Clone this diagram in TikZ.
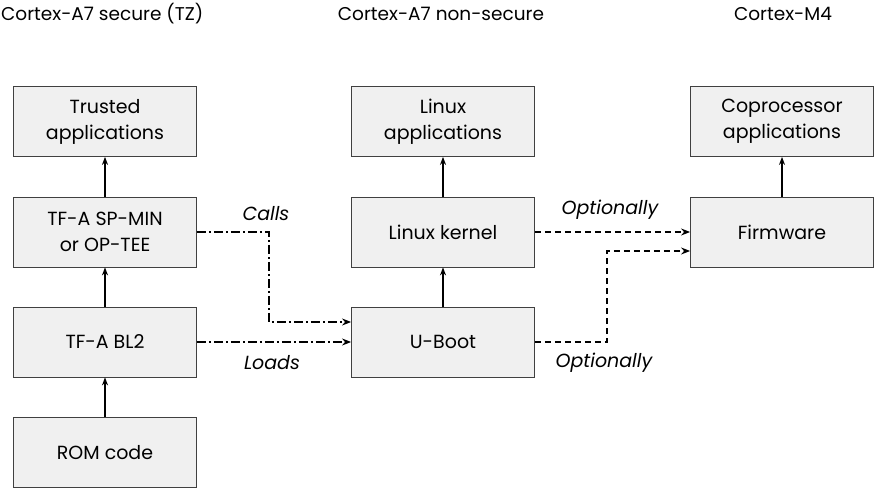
\documentclass[tikz,border=0pt]{standalone}
\usepackage{fontspec}
\setmainfont{Poppins}
\usetikzlibrary{arrows.meta}
\begin{document}
\begin{tikzpicture}[x=1pt,y=-1pt,
  blk/.style={draw=black!75,fill=black!6,line width=0.8pt,minimum width=183pt,minimum height=70pt,align=center,font=\fontsize{19}{26}\selectfont,inner sep=0pt},
  ttl/.style={font=\fontsize{18.5}{26}\selectfont,inner sep=0pt},
  lbl/.style={font=\fontsize{19}{26}\selectfont\itshape},
  sar/.style={line width=1.3pt,-{Stealth[length=8pt,width=6pt]}},
  dda/.style={line width=1.3pt,dash pattern=on 9pt off 3pt on 2pt off 3pt,-{Stealth[length=9pt,width=7pt]}},
  dsh/.style={line width=1.3pt,dash pattern=on 6pt off 4pt,-{Stealth[length=9pt,width=7pt]}}]
\useasboundingbox (0,0) rectangle (876,489);
\node[ttl,anchor=west] (t1) at (1,14) {Cortex-A7 secure (TZ)};
\node[ttl] (t2) at (441,14) {Cortex-A7 non-secure};
\node[ttl] (t3) at (783,14) {Cortex-M4};
\node[blk] (ta) at (105,121.5) {Trusted\\applications};
\node[blk] (sp) at (105,232) {TF-A SP-MIN\\or OP-TEE};
\node[blk] (bl) at (105,342) {TF-A BL2};
\node[blk] (rom) at (105,452.5) {ROM code};
\node[blk] (la) at (443,121.5) {Linux\\applications};
\node[blk] (lk) at (443,232) {Linux kernel};
\node[blk] (ub) at (443,342) {U-Boot};
\node[blk] (ca) at (782,121.5) {Coprocessor\\applications};
\node[blk] (fw) at (782,232) {Firmware};
\draw[sar] (rom) -- (bl);
\draw[sar] (bl) -- (sp);
\draw[sar] (sp) -- (ta);
\draw[sar] (ub) -- (lk);
\draw[sar] (lk) -- (la);
\draw[sar] (fw) -- (ca);
\coordinate (c1) at (269,232);
\coordinate (c2) at (269,322);
\draw[dda] (sp.east) -- (c1) -- (c2) -- (c2 -| ub.west);
\draw[dda] (bl.east) -- (ub.west);
\node[lbl] (calls) at (266,214) {Calls};
\node[lbl] (loads) at (272,363) {Loads};
\draw[dsh] (lk.east) -- (fw.west);
\coordinate (o1) at (607,342);
\coordinate (o2) at (607,251);
\draw[dsh] (ub.east) -- (o1) -- (o2) -- (o2 -| fw.west);
\node[lbl] (op1) at (610,210) {Optionally};
\node[lbl] (op2) at (604,363) {Optionally};
\end{tikzpicture}
\end{document}
